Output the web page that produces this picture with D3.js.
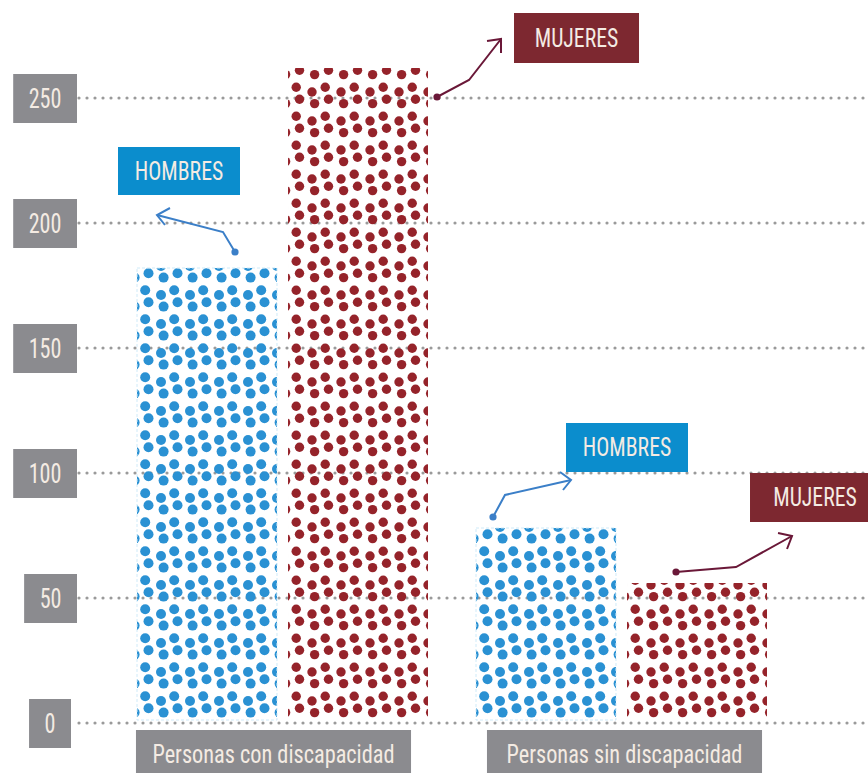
<!DOCTYPE html>
<html><head><meta charset="utf-8">
<script src="https://cdn.jsdelivr.net/npm/d3@7"></script>
<style>
html,body{margin:0;padding:0;background:#fff;}
svg{display:block;}
text{font-family:"Liberation Sans Narrow","Roboto Condensed","DejaVu Sans Condensed",Roboto,sans-serif;}
</style></head>
<body>
<svg id="chart" width="868" height="773"></svg>
<script>
// ---- data ----
const categories = ["Personas con discapacidad", "Personas sin discapacidad"];
const seriesNames = ["HOMBRES", "MUJERES"];
const hombres = [182, 78];
const mujeres = [262, 56];
const yTicks = [0, 50, 100, 150, 200, 250];

// ---- layout ----
const W = 868, H = 773;
const svg = d3.select("#chart");
const y = d3.scaleLinear().domain([0, 250]).range([723, 98]);
const x0 = d3.scaleBand().domain(categories).range([137, 767]).paddingInner(0.1416).paddingOuter(0);
const x1 = d3.scaleBand().domain(seriesNames).range([0, x0.bandwidth()]).paddingInner(0.073).paddingOuter(0);

const dotColor = {HOMBRES: "#2a91d3", MUJERES: "#95232a"};
const boxColor = {HOMBRES: "#0b8dcd", MUJERES: "#7d2830"};
const arrowColor = {HOMBRES: "#3b7fc8", MUJERES: "#6a1838"};
const grey = "#8b8b8f";
const cream = "#f4ebe3";

function condense(txt, k) {
  const w = txt.node().getComputedTextLength();
  const nw = w * k;
  txt.attr("textLength", nw).attr("lengthAdjust", "spacingAndGlyphs");
  return nw;
}

const data = [];
categories.forEach((c, i) => {
  data.push({cat: c, s: "HOMBRES", v: hombres[i], i});
  data.push({cat: c, s: "MUJERES", v: mujeres[i], i});
});

// ---- patterns ----
const defs = svg.append("defs");
const tile = 29;
const tileDots = [[5.2, 5.2], [21, 10], [8.5, 17.2], [23.6, 21.6]];
data.forEach((d, k) => {
  const bx = x0(d.cat) + x1(d.s);
  const p = defs.append("pattern")
    .attr("id", "pat" + k)
    .attr("patternUnits", "userSpaceOnUse")
    .attr("x", bx + 3).attr("y", y(0) - 3)
    .attr("width", tile).attr("height", tile);
  p.selectAll("circle").data(tileDots).join("circle")
    .attr("cx", t => t[0]).attr("cy", t => t[1])
    .attr("r", d.s === "HOMBRES" ? 5.0 : 4.7)
    .attr("fill", dotColor[d.s]);
});

// ---- gridlines ----
const grid = svg.append("g");
function gridLine(g, t) {
  g.append("line")
    .attr("x1", 79).attr("x2", W + 4)
    .attr("y1", y(t)).attr("y2", y(t))
    .attr("stroke", "#9a9a9a").attr("stroke-width", 3.2)
    .attr("stroke-linecap", "round")
    .attr("stroke-dasharray", "0 8");
}
yTicks.filter(t => t > 0).forEach(t => gridLine(grid, t));

// ---- bars ----
svg.append("g").selectAll("rect").data(data).join("rect")
  .attr("x", d => x0(d.cat) + x1(d.s))
  .attr("y", d => y(d.v))
  .attr("width", x1.bandwidth())
  .attr("height", d => y(0) - 3 - y(d.v))
  .attr("fill", (d, k) => `url(#pat${k})`)
  .attr("stroke", d => d.s === "HOMBRES" ? "#cfeaf8" : "none")
  .attr("stroke-width", 1)
  .attr("stroke-dasharray", "3 2");

// zero line on top
gridLine(svg.append("g"), 0);

// ---- y tick labels ----
const yl = svg.append("g");
yTicks.forEach(t => {
  const g = yl.append("g");
  const txt = g.append("text")
    .attr("y", y(t) + 9.5)
    .attr("font-size", 27)
    .attr("fill", cream)
    .attr("text-anchor", "middle")
    .text(t);
  const w = condense(txt, 0.82);
  const bw = w + 31;
  const right = t === 0 ? 71 : 77;
  g.insert("rect", "text")
    .attr("x", right - bw).attr("y", y(t) - 24)
    .attr("width", bw).attr("height", 49)
    .attr("fill", grey);
  txt.attr("x", right - bw / 2);
});

// ---- category labels ----
const cl = svg.append("g");
let catBoxW = 0;
const catTexts = categories.map((c, i) => {
  const g = cl.append("g");
  const txt = g.append("text")
    .attr("font-size", 26)
    .attr("fill", cream)
    .attr("text-anchor", "middle")
    .attr("y", 763)
    .text(c);
  const w = condense(txt, 0.857);
  catBoxW = Math.max(catBoxW, w + 33);
  return {g, txt, c, i};
});
catTexts.forEach(({g, txt, c, i}) => {
  const cx = x0(c) + x0.bandwidth() / 2 + (i === 0 ? -9 : 3);
  g.insert("rect", "text")
    .attr("x", cx - catBoxW / 2).attr("y", 730)
    .attr("width", catBoxW).attr("height", H - 730)
    .attr("fill", grey);
  txt.attr("x", cx);
});

// ---- annotations ----
// offsets relative to bar left / bar top
const annots = [
  {cat: 0, s: "HOMBRES", dot: [98, -16], bend: [86, -36], tip: [20, -53], h1: [33, -60], h2: [28, -43], box: [-19, -121, 122, 48]},
  {cat: 0, s: "MUJERES", dot: [149, 29], bend: [181, 12], tip: [213, -29], h1: [199, -27], h2: [213, -15], box: [226, -55, 125, 50]},
  {cat: 1, s: "HOMBRES", dot: [17, -11], bend: [29, -33], tip: [95, -48], h1: [84, -56], h2: [87, -38], box: [90, -105, 122, 49]},
  {cat: 1, s: "MUJERES", dot: [49, -11], bend: [109, -16], tip: [165, -47], h1: [151, -50], h2: [160, -34], box: [123, -110, 130, 49]}
];
const ag = svg.append("g");
annots.forEach(a => {
  const c = categories[a.cat];
  const bx = x0(c) + x1(a.s);
  const v = a.s === "HOMBRES" ? hombres[a.cat] : mujeres[a.cat];
  const by = y(v);
  const P = o => [bx + o[0], by + o[1]];
  const col = arrowColor[a.s];
  const g = ag.append("g");
  g.append("rect")
    .attr("x", bx + a.box[0]).attr("y", by + a.box[1])
    .attr("width", a.box[2]).attr("height", a.box[3])
    .attr("fill", boxColor[a.s]);
  const txt = g.append("text")
    .attr("x", bx + a.box[0] + a.box[2] / 2)
    .attr("y", by + a.box[1] + a.box[3] / 2 + 8.5)
    .attr("text-anchor", "middle")
    .attr("font-size", 25)
    .attr("fill", cream)
    .text(a.s);
  condense(txt, 0.87);
  g.append("path")
    .attr("d", d3.line()([P(a.dot), P(a.bend), P(a.tip)]))
    .attr("fill", "none").attr("stroke", col).attr("stroke-width", 2);
  g.append("path")
    .attr("d", d3.line()([P(a.h1), P(a.tip), P(a.h2)]))
    .attr("fill", "none").attr("stroke", col).attr("stroke-width", 2);
  g.append("circle")
    .attr("cx", P(a.dot)[0]).attr("cy", P(a.dot)[1])
    .attr("r", 3.6).attr("fill", col);
});
</script>
</body></html>
